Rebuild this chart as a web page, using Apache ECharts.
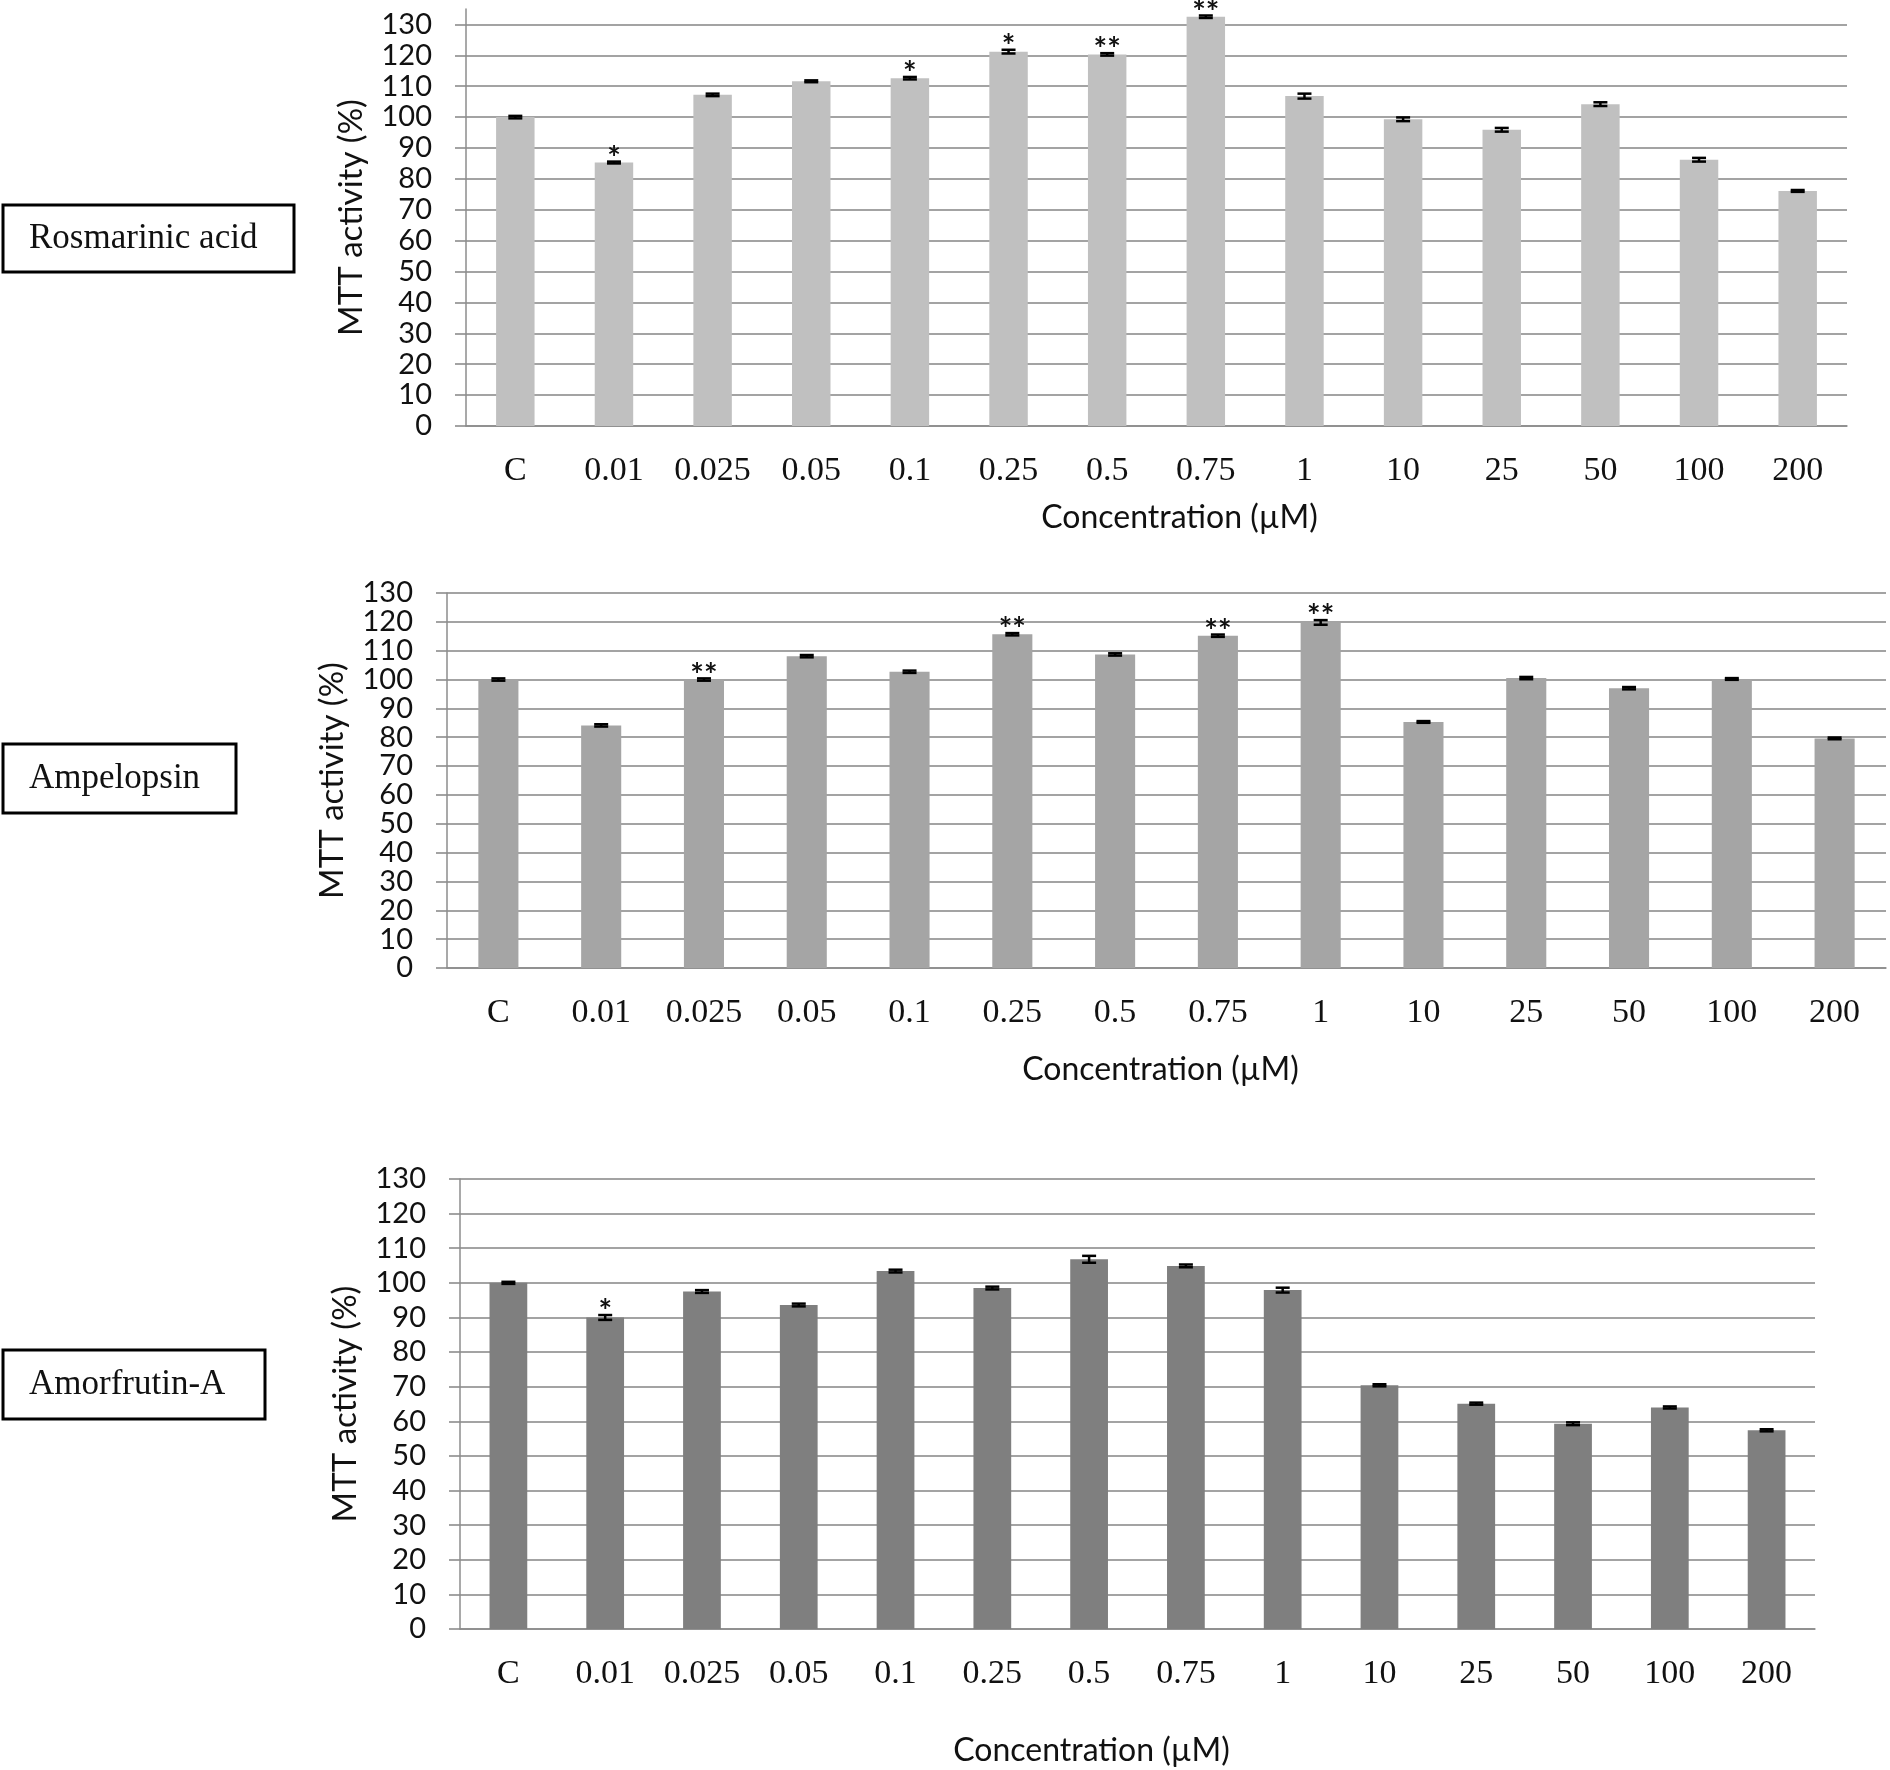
<!DOCTYPE html>
<html>
<head>
<meta charset="utf-8">
<script src="https://cdn.jsdelivr.net/npm/echarts@6/dist/echarts.min.js"></script>
<style>
  html, body { margin: 0; padding: 0; background: #fff; }
  #chart { width: 1890px; height: 1770px; }
</style>
</head>
<body>
<div id="chart"></div>
<script>
// categories (concentration, µM)
var concentrations = ['C', '0.01', '0.025', '0.05', '0.1', '0.25', '0.5', '0.75', '1', '10', '25', '50', '100', '200'];

// Rosmarinic acid
var rosmarinicValues = [100, 85.3, 107.2, 111.6, 112.6, 121.2, 120.3, 132.5, 106.8, 99.3, 95.9, 104.2, 86.2, 76.1];
var rosmarinicErrors = [0.4, 0.3, 0.4, 0.3, 0.4, 0.6, 0.4, 0.4, 0.8, 0.6, 0.6, 0.6, 0.6, 0.3];
var rosmarinicSig = ['', '*', '', '', '*', '*', '**', '**', '', '', '', '', '', ''];

// Ampelopsin
var ampelopsinValues = [100, 84.1, 100, 108.1, 102.7, 115.7, 108.7, 115.2, 119.8, 85.3, 100.5, 97, 100.2, 79.6];
var ampelopsinErrors = [0.4, 0.4, 0.4, 0.4, 0.4, 0.4, 0.4, 0.4, 0.8, 0.3, 0.4, 0.4, 0.3, 0.3];
var ampelopsinSig = ['', '', '**', '', '', '**', '', '**', '**', '', '', '', '', ''];

// Amorfrutin-A
var amorfrutinValues = [100, 90, 97.5, 93.6, 103.4, 98.5, 106.8, 104.9, 97.9, 70.4, 65.1, 59.3, 64, 57.4];
var amorfrutinErrors = [0.3, 0.7, 0.4, 0.4, 0.4, 0.4, 1.0, 0.4, 0.7, 0.3, 0.3, 0.4, 0.3, 0.3];
var amorfrutinSig = ['', '*', '', '', '', '', '', '', '', '', '', '', '', ''];

var yTickStep = 10;

var chart = echarts.init(document.getElementById('chart'));

var panels = [
    { name: 'Rosmarinic acid', values: rosmarinicValues, errors: rosmarinicErrors, sig: rosmarinicSig,
      color: '#c0c0c0', yMax: 135, grid: { left: 466, right: 43, top: 9, height: 417 },
      nameGapX: 76, xNamePad: [0, 0, 0, 46], box: [3, 205, 291, 67] },
    { name: 'Ampelopsin', values: ampelopsinValues, errors: ampelopsinErrors, sig: ampelopsinSig,
      color: '#a5a5a5', yMax: 130, grid: { left: 447, right: 4, top: 593, height: 375 },
      nameGapX: 86, xNamePad: [0, 12, 0, 0], box: [3, 744, 233, 69] },
    { name: 'Amorfrutin-A', values: amorfrutinValues, errors: amorfrutinErrors, sig: amorfrutinSig,
      color: '#7f7f7f', yMax: 130, grid: { left: 460, right: 75, top: 1179, height: 450 },
      nameGapX: 106, xNamePad: [0, 92, 0, 0], box: [3, 1350, 262, 69] }
];

var grids = [], xAxes = [], yAxes = [], series = [], graphics = [];

panels.forEach(function(p, k) {
    grids.push(p.grid);
    // backing grid, a bit wider, only for the gridlines that stick out left of the axis
    grids.push({ left: p.grid.left - 11, right: p.grid.right, top: p.grid.top, height: p.grid.height });

    xAxes.push({
        type: 'category', gridIndex: 2 * k, data: concentrations,
        axisLine: { lineStyle: { color: '#8c8c8c', width: 1.5 } },
        axisTick: { length: 11, lineStyle: { color: '#8c8c8c', width: 1.5 } },
        axisLabel: { interval: 0, margin: 28, fontFamily: 'Liberation Serif', fontSize: 34, color: '#111' },
        name: 'Concentration (µM)', nameLocation: 'middle', nameGap: p.nameGapX,
        nameTextStyle: { fontFamily: 'Lato', fontSize: 32, color: '#111', padding: p.xNamePad }
    });
    xAxes.push({ type: 'value', gridIndex: 2 * k + 1, min: 0, max: 1, show: false });

    yAxes.push({
        type: 'value', gridIndex: 2 * k, min: 0, max: p.yMax, interval: yTickStep,
        axisLine: { show: true, lineStyle: { color: '#8c8c8c', width: 1.5 } },
        axisTick: { show: false },
        splitLine: { show: false },
        axisLabel: { margin: 34, fontFamily: 'Lato', fontSize: 29, color: '#111', showMaxLabel: p.yMax % yTickStep === 0 },
        name: 'MTT activity (%)', nameLocation: 'middle', nameGap: 98, nameRotate: 90,
        nameTextStyle: { fontFamily: 'Lato', fontSize: 33, color: '#111' }
    });
    yAxes.push({
        type: 'value', gridIndex: 2 * k + 1, min: 0, max: p.yMax, interval: yTickStep,
        axisLine: { show: false }, axisTick: { show: false }, axisLabel: { show: false },
        splitLine: { show: true, showMaxLine: p.yMax % yTickStep === 0,
                     lineStyle: { color: '#a3a3a3', width: 2 } }
    });

    series.push({
        type: 'bar', xAxisIndex: 2 * k, yAxisIndex: 2 * k,
        data: p.values, barWidth: '39%', clip: false,
        itemStyle: { color: p.color }, z: 3
    });

    var sig = p.sig;
    series.push({
        type: 'custom', xAxisIndex: 2 * k, yAxisIndex: 2 * k, z: 5, clip: false,
        data: p.values.map(function(v, i) { return [i, v, p.errors[i]]; }),
        renderItem: function(params, api) {
            var i = api.value(0), v = api.value(1), e = api.value(2);
            var hi = api.coord([i, v + e]);
            var lo = api.coord([i, v - e]);
            var hw = 7;
            var st = { stroke: '#000', lineWidth: 2.5 };
            var kids = [
                { type: 'line', shape: { x1: hi[0], y1: hi[1], x2: lo[0], y2: lo[1] }, style: st },
                { type: 'line', shape: { x1: hi[0] - hw, y1: hi[1], x2: hi[0] + hw, y2: hi[1] }, style: st },
                { type: 'line', shape: { x1: lo[0] - hw, y1: lo[1], x2: lo[0] + hw, y2: lo[1] }, style: st }
            ];
            if (sig[params.dataIndex]) {
                kids.push({
                    type: 'text',
                    style: { text: sig[params.dataIndex], x: hi[0], y: hi[1] + 14,
                             align: 'center', verticalAlign: 'bottom',
                             font: 'bold 32px Lato', fill: '#111' }
                });
            }
            return { type: 'group', children: kids };
        }
    });

    graphics.push({
        type: 'rect', shape: { x: p.box[0], y: p.box[1], width: p.box[2], height: p.box[3] },
        style: { fill: '#fff', stroke: '#000', lineWidth: 3 }
    });
    graphics.push({
        type: 'text', x: 29, y: p.box[1] + p.box[3] / 2,
        style: { text: p.name, font: '35px "Liberation Serif"', fill: '#111', verticalAlign: 'middle' }
    });
});

chart.setOption({
    animation: false,
    grid: grids,
    xAxis: xAxes,
    yAxis: yAxes,
    series: series,
    graphic: graphics
});
</script>
</body>
</html>
